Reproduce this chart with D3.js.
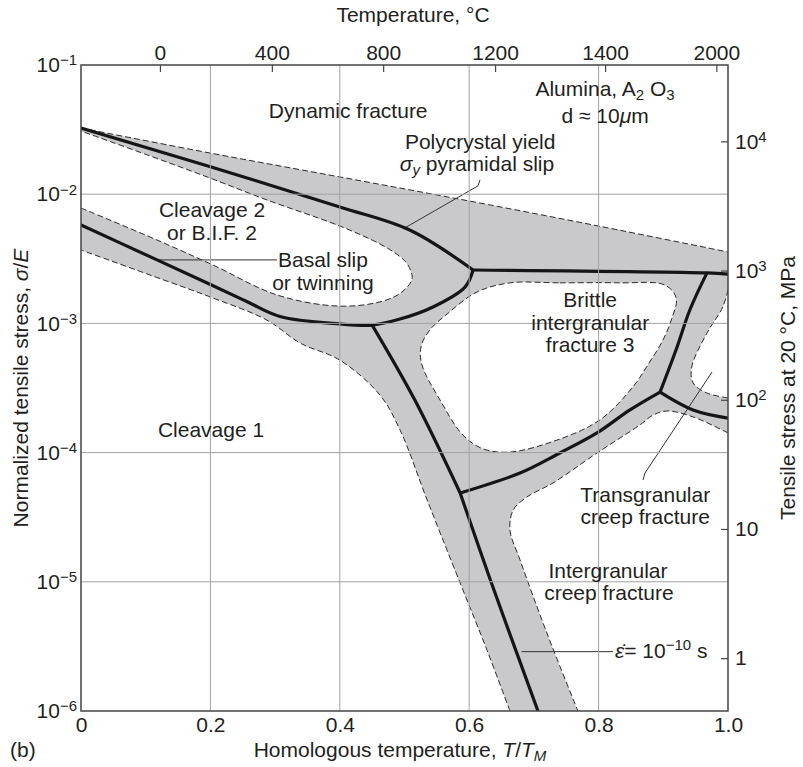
<!DOCTYPE html>
<html>
<head>
<meta charset="utf-8">
<script src="https://cdn.jsdelivr.net/npm/d3@7"></script>
<style>
  body { margin: 0; background: #fff; }
  svg text { font-family: "Liberation Sans", Arial, sans-serif; fill: #231f20; }
</style>
</head>
<body>
<div id="chart"></div>
<script>
// axis ticks
const xTicks = [0, 0.2, 0.4, 0.6, 0.8, 1.0];
const xTickLabels = ["0", "0.2", "0.4", "0.6", "0.8", "1.0"];
const yTicks = [1e-1, 1e-2, 1e-3, 1e-4, 1e-5, 1e-6];
const yTickExp = ["−1", "−2", "−3", "−4", "−5", "−6"];
const tempTickPos = [0.122, 0.295, 0.467, 0.640, 0.810, 0.982];
const tempTickLabels = ["0", "400", "800", "1200", "1400", "2000"];
const mpaTicks = [1, 10, 100, 1000, 10000];
const mpaBase = ["1", "10", "10", "10", "10"];
const mpaExp = ["", "", "2", "3", "4"];
const modulusMPa = 3.9e5;

// field boundaries, [T/TM, sigma/E]
const dynamicEdge = [[0, 3.25e-2], [0.2, 2.08e-2], [0.4, 1.36e-2], [0.6, 8.86e-3], [0.8, 5.67e-3], [1.0, 3.57e-3]];
const transNotch = [[1.0, 1.82e-3], [0.992, 1.34e-3], [0.9675, 8.43e-4], [0.944, 4.6e-4], [0.946, 3.46e-4], [0.9675, 2.89e-4], [1.0, 2.65e-4]];
const creepEdge = [[1.0, 1.42e-4], [0.946, 1.89e-4], [0.906, 2.1e-4], [0.884, 1.95e-4], [0.864, 1.64e-4], [0.7975, 9.93e-5],
  [0.7295, 5.82e-5], [0.689, 4.53e-5], [0.668, 3.59e-5], [0.663, 2.52e-5], [0.6785, 1.48e-5], [0.72, 4.02e-6], [0.768, 1e-6]];
const cleavage1Edge = [[0.663, 1e-6], [0.6275, 2.96e-6], [0.586, 9.79e-6], [0.535, 4.3e-5], [0.493, 1.5e-4], [0.462, 2.79e-4],
  [0.4, 5.2e-4], [0.3385, 7.05e-4], [0.2875, 1.06e-3], [0.2, 1.6e-3], [0.1066, 2.37e-3], [0, 3.7e-3]];
const cleavage2Edge = [[0, 7.82e-3], [0.1175, 4.42e-3], [0.204, 2.83e-3], [0.303, 1.66e-3], [0.4, 1.36e-3], [0.467, 1.49e-3],
  [0.496, 1.75e-3], [0.5116, 2.21e-3], [0.5054, 2.83e-3], [0.49, 3.38e-3], [0.462, 4.12e-3], [0.4, 5.67e-3],
  [0.2875, 9.02e-3], [0.2, 1.33e-2], [0.1066, 1.98e-2], [0, 3.08e-2]];
const brittleHole = [[0.663, 2.06e-3], [0.74, 2.06e-3], [0.833, 2.06e-3], [0.9026, 1.98e-3], [0.92, 1.57e-3], [0.9134, 1.1e-3],
  [0.8995, 7.44e-4], [0.876, 4.77e-4], [0.853, 3.22e-4], [0.802, 1.79e-4], [0.7357, 1.25e-4], [0.663, 1.01e-4],
  [0.621, 1.07e-4], [0.59, 1.37e-4], [0.555, 2.55e-4], [0.527, 4.77e-4], [0.5255, 6.57e-4], [0.539, 8.89e-4],
  [0.5657, 1.18e-3], [0.612, 1.75e-3]];

// mechanism boundaries (thick lines)
const polyYield = [[0, 3.25e-2], [0.2, 1.63e-2], [0.4, 7.96e-3], [0.508, 5.28e-3], [0.606, 2.59e-3]];
const yieldPlateau = [[0.606, 2.59e-3], [0.9675, 2.46e-3], [1.0, 2.41e-3]];
const basalSlip = [[0, 5.78e-3], [0.1175, 3.1e-3], [0.2, 2.0e-3], [0.257, 1.47e-3], [0.3076, 1.13e-3], [0.4, 9.9e-4],
  [0.45, 9.7e-4], [0.493, 1.08e-3], [0.544, 1.34e-3], [0.5935, 1.91e-3], [0.606, 2.59e-3]];
const creepUpper = [[0.45, 9.7e-4], [0.516, 2.55e-4], [0.586, 4.87e-5]];
const creepLower = [[0.586, 4.87e-5], [0.6337, 1e-5], [0.7063, 1e-6]];
const creepBranch = [[0.586, 4.87e-5], [0.6785, 6.95e-5], [0.74, 9.93e-5], [0.7975, 1.42e-4], [0.8485, 2.14e-4], [0.895, 2.94e-4]];
const transUp = [[0.895, 2.94e-4], [0.9196, 6.22e-4], [0.941, 1.27e-3], [0.9675, 2.46e-3]];
const transRight = [[0.895, 2.94e-4], [0.946, 2.14e-4], [1.0, 1.85e-4]];

// leader lines
const yieldLeader = [[0.6167, 1.29e-2], [0.6136, 1.16e-2], [0.4977, 5.38e-3]];
const basalLeader = [[0.1175, 3.1e-3], [0.303, 3.1e-3]];
const transLeader = [[0.8686, 6.14e-5], [0.8717, 6.95e-5], [0.9753, 4.2e-4]];
const rateLeader = [[0.6809, 2.88e-6], [0.8223, 2.88e-6]];

// labels: [text, kind]
const labels = [
  { x: 0.413, y: 3.89e-2, parts: [["Dynamic fracture"]] },
  { x: 0.81, y: 5.75e-2, parts: [["Alumina, A"], ["2", "sub"], [" O"], ["3", "sub"]] },
  { x: 0.81, y: 3.56e-2, parts: [["d ≈ 10"], ["μ", "i"], ["m"]] },
  { x: 0.617, y: 2.24e-2, parts: [["Polycrystal yield"]] },
  { x: 0.612, y: 1.51e-2, parts: [["σ", "i"], ["y", "isub"], [" pyramidal slip"]] },
  { x: 0.2025, y: 6.66e-3, parts: [["Cleavage 2"]] },
  { x: 0.2025, y: 4.42e-3, parts: [["or B.I.F. 2"]] },
  { x: 0.374, y: 2.73e-3, parts: [["Basal slip"]] },
  { x: 0.374, y: 1.81e-3, parts: [["or twinning"]] },
  { x: 0.201, y: 1.32e-4, parts: [["Cleavage 1"]] },
  { x: 0.787, y: 1.34e-3, parts: [["Brittle"]] },
  { x: 0.787, y: 8.89e-4, parts: [["intergranular"]] },
  { x: 0.787, y: 6.0e-4, parts: [["fracture 3"]] },
  { x: 0.872, y: 4.15e-5, parts: [["Transgranular"]] },
  { x: 0.872, y: 2.8e-5, parts: [["creep fracture"]] },
  { x: 0.8145, y: 1.07e-5, parts: [["Intergranular"]] },
  { x: 0.816, y: 7.23e-6, parts: [["creep fracture"]] },
  { x: 0.8253, y: 2.57e-6, anchor: "start", parts: [["ε̇", "i"], ["= 10"], ["−10", "sup"], [" s"]] }
];

const fontSize = 21;

function addParts(sel, parts) {
    let shift = 0;
    parts.forEach(p => {
        const kind = p[1] || "";
        const target = kind.indexOf("sub") >= 0 ? 4 : kind === "sup" ? -8 : 0;
        sel.append("tspan")
            .attr("dy", target - shift)
            .attr("font-size", target ? 15 : null)
            .attr("font-style", kind === "i" || kind === "isub" ? "italic" : null)
            .text(p[0]);
        shift = target;
    });
}

function main() {
    const W = 803, H = 767;
    const margin = { top: 65, right: 75, bottom: 56, left: 81 };
    const width = W - margin.left - margin.right;
    const height = H - margin.top - margin.bottom;

    const svg = d3.select("#chart").append("svg")
        .attr("width", W)
        .attr("height", H);

    const xScale = d3.scaleLinear().domain([0, 1]).range([0, width]);
    const yScale = d3.scaleLog().domain([1e-6, 1e-1]).range([height, 0]);
    const mpaScale = d3.scaleLog().domain([1e-6 * modulusMPa, 1e-1 * modulusMPa]).range([height, 0]);

    const g = svg.append("g")
        .attr("transform", "translate(" + margin.left + "," + margin.top + ")");

    svg.append("defs").append("clipPath").attr("id", "plotClip")
        .append("rect").attr("width", width).attr("height", height);

    const plot = g.append("g").attr("clip-path", "url(#plotClip)");

    const curved = d3.line()
        .x(d => xScale(d[0]))
        .y(d => yScale(d[1]))
        .curve(d3.curveCatmullRom.alpha(0.5));
    const closed = d3.line()
        .x(d => xScale(d[0]))
        .y(d => yScale(d[1]))
        .curve(d3.curveCatmullRomClosed.alpha(0.5));
    const straight = d3.line()
        .x(d => xScale(d[0]))
        .y(d => yScale(d[1]));

    // grey band
    const outline = [dynamicEdge, transNotch, creepEdge, cleavage1Edge, cleavage2Edge];
    const fillPath = outline.map((seg, i) => {
        const s = curved(seg);
        return i ? s.replace(/^M/, "L") : s;
    }).join("") + "Z";

    plot.append("path")
        .attr("d", fillPath)
        .attr("fill", "#c9c9cb");

    plot.append("path")
        .attr("d", closed(brittleHole))
        .attr("fill", "#fff");

    // grid
    g.append("g").selectAll("line.vgrid")
        .data(xTicks.slice(1, -1))
        .enter().append("line")
        .attr("x1", d => xScale(d)).attr("x2", d => xScale(d))
        .attr("y1", 0).attr("y2", height)
        .attr("stroke", "#a2a2a2").attr("stroke-width", 1);

    g.append("g").selectAll("line.hgrid")
        .data(yTicks.slice(1, -1))
        .enter().append("line")
        .attr("x1", 0).attr("x2", width)
        .attr("y1", d => yScale(d)).attr("y2", d => yScale(d))
        .attr("stroke", "#a2a2a2").attr("stroke-width", 1);

    // dashed field edges
    outline.forEach(seg => {
        plot.append("path")
            .attr("d", curved(seg))
            .attr("fill", "none")
            .attr("stroke", "#2a2a2a")
            .attr("stroke-width", 1)
            .attr("stroke-dasharray", "6,3");
    });
    plot.append("path")
        .attr("d", closed(brittleHole))
        .attr("fill", "none")
        .attr("stroke", "#2a2a2a")
        .attr("stroke-width", 1)
        .attr("stroke-dasharray", "6,3");

    // leaders
    [yieldLeader, basalLeader, transLeader, rateLeader].forEach(seg => {
        plot.append("path")
            .attr("d", straight(seg))
            .attr("fill", "none")
            .attr("stroke", "#333")
            .attr("stroke-width", 1);
    });

    // mechanism boundaries
    [polyYield, yieldPlateau, basalSlip, creepUpper, creepLower, creepBranch, transUp, transRight].forEach(seg => {
        plot.append("path")
            .attr("d", curved(seg))
            .attr("fill", "none")
            .attr("stroke", "#151515")
            .attr("stroke-width", 3.2)
            .attr("stroke-linejoin", "round");
    });

    // frame
    g.append("rect")
        .attr("width", width).attr("height", height)
        .attr("fill", "none")
        .attr("stroke", "#444")
        .attr("stroke-width", 1.5);

    // axes
    const bottomAxis = g.append("g")
        .attr("transform", "translate(0," + height + ")")
        .call(d3.axisBottom(xScale).tickValues(xTicks).tickSize(0)
            .tickFormat((d, i) => xTickLabels[i]));
    bottomAxis.selectAll("text").attr("y", 21).attr("dy", 0);

    const leftAxis = g.append("g")
        .call(d3.axisLeft(yScale).tickValues(yTicks).tickSize(0).tickPadding(4)
            .tickFormat(() => "10"));
    leftAxis.selectAll(".tick text").each(function (d, i) {
        d3.select(this).append("tspan")
            .attr("dy", "-0.45em")
            .attr("font-size", 15)
            .text(yTickExp[i]);
    });

    const topAxis = g.append("g")
        .call(d3.axisTop(xScale).tickValues(tempTickPos).tickSize(-7).tickPadding(5)
            .tickFormat((d, i) => tempTickLabels[i]));
    topAxis.selectAll("text").attr("y", -5);

    const rightAxis = g.append("g")
        .attr("transform", "translate(" + width + ",0)")
        .call(d3.axisRight(mpaScale).tickValues(mpaTicks).tickSize(-7).tickPadding(7)
            .tickFormat((d, i) => mpaBase[i]));
    rightAxis.selectAll(".tick text").each(function (d, i) {
        if (mpaExp[i]) {
            d3.select(this).append("tspan")
                .attr("dy", "-0.45em")
                .attr("font-size", 15)
                .text(mpaExp[i]);
        }
    });

    [bottomAxis, leftAxis, topAxis, rightAxis].forEach(a => {
        a.attr("font-size", fontSize).attr("font-family", null);
        a.select(".domain").remove();
        a.selectAll(".tick line").attr("stroke", "#444").attr("stroke-width", 1.2);
    });

    // field labels
    labels.forEach(l => {
        const t = g.append("text")
            .attr("x", xScale(l.x))
            .attr("y", yScale(l.y))
            .attr("font-size", fontSize)
            .attr("text-anchor", l.anchor || "middle");
        addParts(t, l.parts);
    });

    // axis titles
    svg.append("text")
        .attr("x", 413).attr("y", 22)
        .attr("text-anchor", "middle")
        .attr("font-size", fontSize)
        .text("Temperature, °C");

    const xTitle = svg.append("text")
        .attr("x", 400).attr("y", 757)
        .attr("text-anchor", "middle")
        .attr("font-size", fontSize);
    addParts(xTitle, [["Homologous temperature, "], ["T", "i"], ["/"], ["T", "i"], ["M", "isub"]]);

    svg.append("text")
        .attr("x", 10).attr("y", 757)
        .attr("font-size", fontSize)
        .text("(b)");

    const yTitle = svg.append("text")
        .attr("transform", "rotate(-90)")
        .attr("x", -(margin.top + height / 2)).attr("y", 28)
        .attr("text-anchor", "middle")
        .attr("font-size", fontSize);
    addParts(yTitle, [["Normalized tensile stress, "], ["σ", "i"], ["/"], ["E", "i"]]);

    svg.append("text")
        .attr("transform", "rotate(-90)")
        .attr("x", -(margin.top + height / 2)).attr("y", 795)
        .attr("text-anchor", "middle")
        .attr("font-size", fontSize)
        .text("Tensile stress at 20 °C, MPa");
}
main();
</script>
</body>
</html>
